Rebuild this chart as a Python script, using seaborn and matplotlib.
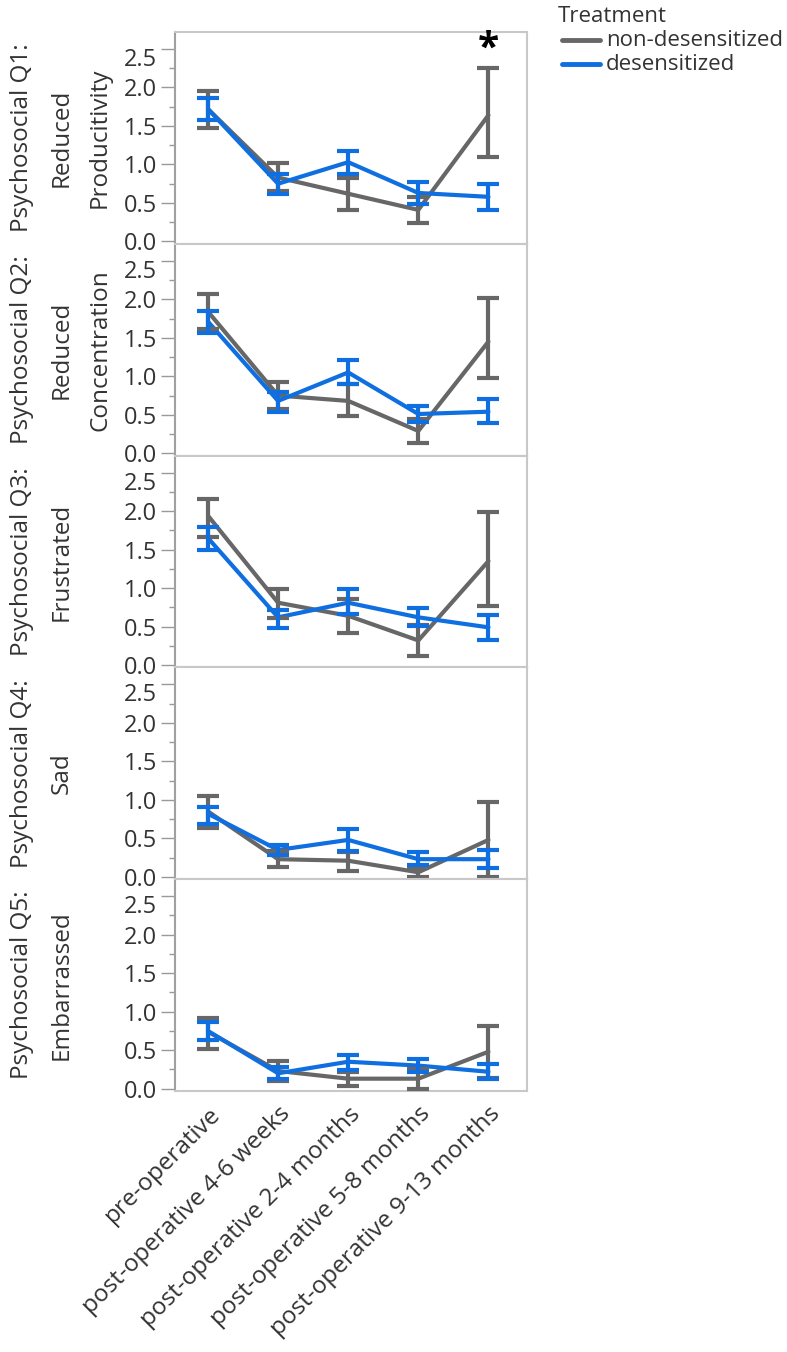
import numpy as np
import pandas as pd
import seaborn as sns
import matplotlib.pyplot as plt
import matplotlib.transforms as mtransforms
from matplotlib.ticker import MultipleLocator

# Categories (time points)
timepoints = ["pre-operative", "post-operative 4-6 weeks", "post-operative 2-4 months",
              "post-operative 5-8 months", "post-operative 9-13 months"]

# Panel labels (one list of lines per question)
panel_lines = [
    ["Psychosocial Q1:", "Reduced", "Producitivity"],
    ["Psychosocial Q2:", "Reduced", "Concentration"],
    ["Psychosocial Q3:", "Frustrated"],
    ["Psychosocial Q4:", "Sad"],
    ["Psychosocial Q5:", "Embarrassed"],
]

# non-desensitized: mean, lower and upper error bar ends (rows = Q1..Q5)
non_mean = [[1.72, 0.83, 0.62, 0.41, 1.64],
            [1.84, 0.75, 0.68, 0.29, 1.45],
            [1.94, 0.81, 0.64, 0.32, 1.35],
            [0.85, 0.23, 0.21, 0.06, 0.48],
            [0.74, 0.23, 0.13, 0.13, 0.48]]
non_lo = [[1.48, 0.65, 0.41, 0.24, 1.10],
          [1.61, 0.58, 0.49, 0.14, 0.98],
          [1.66, 0.61, 0.42, 0.12, 0.77],
          [0.63, 0.13, 0.07, 0.00, 0.00],
          [0.51, 0.10, 0.04, 0.00, 0.14]]
non_hi = [[1.96, 1.02, 0.82, 0.58, 2.25],
          [2.07, 0.92, 0.90, 0.44, 2.01],
          [2.16, 0.99, 0.86, 0.52, 1.99],
          [1.05, 0.33, 0.32, 0.12, 0.97],
          [0.92, 0.36, 0.22, 0.26, 0.82]]

# desensitized
des_mean = [[1.72, 0.75, 1.03, 0.63, 0.58],
            [1.71, 0.68, 1.05, 0.51, 0.54],
            [1.65, 0.62, 0.81, 0.62, 0.49],
            [0.82, 0.35, 0.48, 0.23, 0.23],
            [0.75, 0.20, 0.35, 0.30, 0.22]]
des_lo = [[1.58, 0.62, 0.88, 0.49, 0.41],
          [1.56, 0.54, 0.90, 0.40, 0.39],
          [1.50, 0.48, 0.66, 0.51, 0.32],
          [0.69, 0.28, 0.34, 0.15, 0.11],
          [0.63, 0.13, 0.24, 0.22, 0.12]]
des_hi = [[1.86, 0.87, 1.18, 0.77, 0.74],
          [1.85, 0.79, 1.21, 0.62, 0.70],
          [1.79, 0.71, 0.99, 0.74, 0.65],
          [0.91, 0.41, 0.62, 0.32, 0.35],
          [0.87, 0.28, 0.44, 0.38, 0.32]]

groups = ["non-desensitized", "desensitized"]
colors = {"non-desensitized": "#676767", "desensitized": "#0f6fe0"}

sns.set_style("white")
plt.rcParams["font.family"] = ["Open Sans", "DejaVu Sans"]

W, H = 787, 1352
FS = 17.5
txt_color = "#333333"
fig = plt.figure(figsize=(W / 100, H / 100), dpi=100)
gs = fig.add_gridspec(5, 1, left=175 / W, right=527 / W,
                      top=1 - 32 / H, bottom=1 - 1091 / H, hspace=0)

x = np.arange(len(timepoints))
for i in range(5):
    ax = fig.add_subplot(gs[i])
    rows = []
    for g, m, lo, hi in [("non-desensitized", non_mean[i], non_lo[i], non_hi[i]),
                         ("desensitized", des_mean[i], des_lo[i], des_hi[i])]:
        for k in range(len(timepoints)):
            rows.append({"x": k, "value": m[k], "lo": lo[k], "hi": hi[k], "Treatment": g})
    df = pd.DataFrame(rows)

    sns.lineplot(data=df, x="x", y="value", hue="Treatment", hue_order=groups,
                 palette=colors, linewidth=3.0, ax=ax, legend=False, zorder=3)
    for g in groups:
        d = df[df["Treatment"] == g]
        ax.errorbar(d["x"], d["value"],
                    yerr=[d["value"] - d["lo"], d["hi"] - d["value"]],
                    fmt="none", ecolor=colors[g], elinewidth=3.0,
                    capsize=8, capthick=3.0, zorder=3)

    ax.set_xlim(-0.47, 4.55)
    ax.set_ylim(-0.03, 2.72)
    ax.yaxis.set_minor_locator(MultipleLocator(0.25))
    ax.set_yticks([0, 0.5, 1.0, 1.5, 2.0, 2.5])
    ax.set_yticklabels(["0.0", "0.5", "1.0", "1.5", "2.0", "2.5"], fontsize=17, color=txt_color)
    ax.tick_params(axis="y", which="major", length=10, width=1, color="#999999", left=True, pad=3)
    ax.tick_params(axis="y", which="minor", length=4, width=1, color="#999999", left=True)
    for lab in ax.get_yticklabels():
        if lab.get_text() == "2.5":
            lab.set_transform(lab.get_transform() +
                              mtransforms.ScaledTranslation(0, -8 / 100, fig.dpi_scale_trans))
    for side, sp in ax.spines.items():
        sp.set_color("#c8c8c8")
        sp.set_linewidth(1.5)
    ax.spines["left"].set_color("#a0a0a0")
    ax.set_xlabel("")
    ax.set_ylabel("")
    ax.set_xticks(x)
    if i < 4:
        ax.set_xticklabels([])
        ax.tick_params(axis="x", length=0)
    else:
        ax.set_xticklabels(timepoints, rotation=45, ha="right", rotation_mode="anchor",
                           fontsize=FS, color=txt_color)
        ax.tick_params(axis="x", length=0, pad=8)

    # panel title lines at the left
    pos = ax.get_position()
    yc = (pos.y0 + pos.y1) / 2
    for j, txt in enumerate(panel_lines[i]):
        fig.text([22, 62, 100][j] / W, yc, txt, rotation=90, ha="center", va="center",
                 fontsize=FS, color=txt_color)

    if i == 0:
        ax.text(4, 2.5, "*", ha="center", va="center", fontsize=28, fontweight="bold", color="black")

# legend, placed by hand in figure pixels
LFS = 16
fig.text(558 / W, 1 - 16 / H, "Treatment", ha="left", va="center", fontsize=LFS, color=txt_color)
for g, ypix in zip(groups, [40, 64]):
    fig.add_artist(plt.Line2D([562 / W, 600 / W], [1 - ypix / H, 1 - ypix / H],
                              color=colors[g], linewidth=3.5, transform=fig.transFigure))
    fig.text(606 / W, 1 - ypix / H, g, ha="left", va="center", fontsize=LFS, color=txt_color)

fig.savefig("out.png", dpi=100)
